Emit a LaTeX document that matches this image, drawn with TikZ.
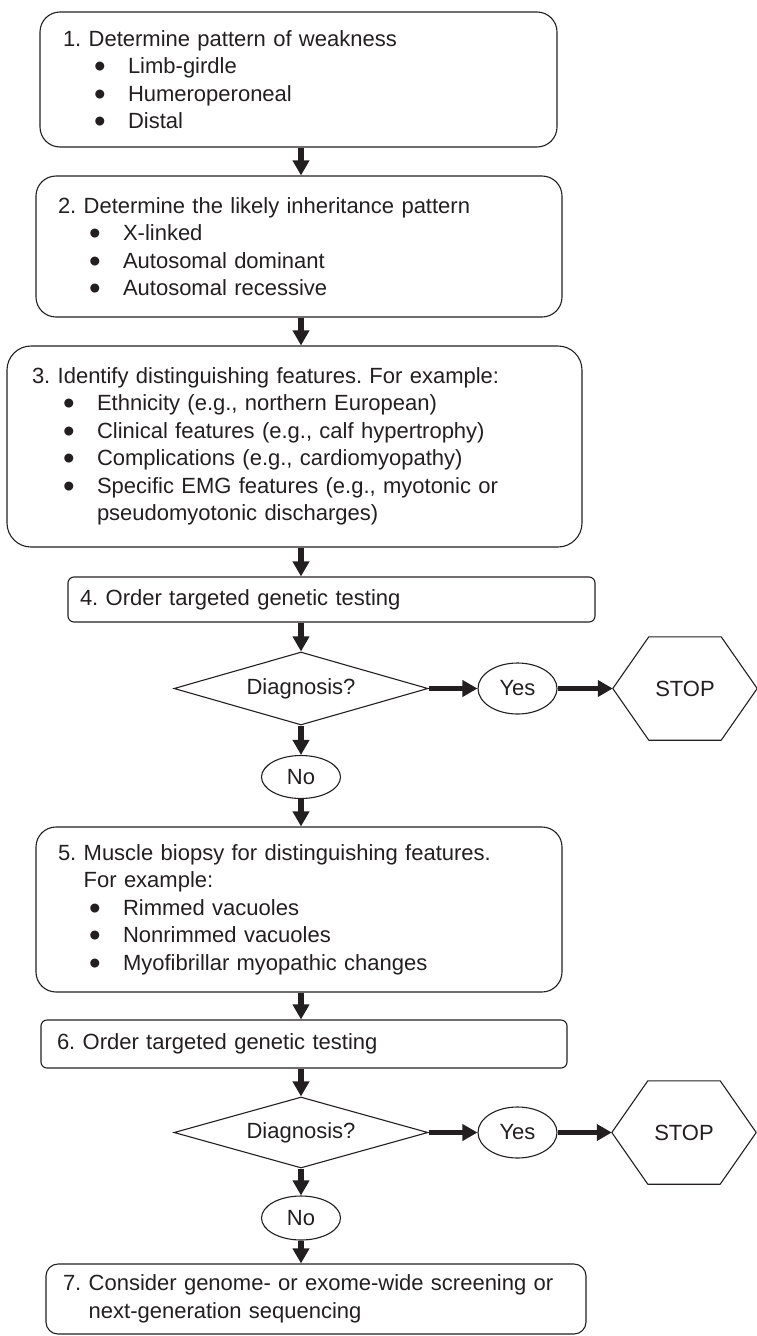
\documentclass[tikz,border=0pt]{standalone}
\usepackage{fontspec}
\setmainfont{Liberation Sans}
\usetikzlibrary{arrows.meta,shapes.geometric}
\definecolor{ink}{RGB}{35,31,32}
\frenchspacing
\newcommand\bul{\hspace*{31pt}\makebox[34pt][l]{\smash{\raisebox{-4pt}{\scalebox{1.5}{\textbullet}}}}}
\newcommand\stophex[3]{%
  \node[minimum width=144pt,minimum height=103pt,inner sep=0pt] (#1) at (#2,#3) {STOP};
  \draw[line width=1.1pt,line join=round] (#1.west) -- ([xshift=36pt]#1.north west)
    -- ([xshift=-36pt]#1.north east) -- (#1.east) -- ([xshift=-36pt]#1.south east)
    -- ([xshift=36pt]#1.south west) -- cycle%
}
\tikzset{
  stepbox/.style={draw, line width=1.1pt, align=left, inner ysep=0pt},
  decision/.style={draw, line width=1.1pt, diamond, aspect=3.5, inner sep=0pt,
    minimum width=254pt},
  answer/.style={draw, line width=1.1pt, ellipse, inner sep=0pt, minimum width=79pt},
  flow/.style={draw, line width=5.5pt, -{Triangle[length=15pt,width=16pt]}}
}

\begin{document}
\begin{tikzpicture}[x=1pt,y=-1pt,color=ink,font=\fontsize{22pt}{27.5pt}\selectfont]
        \useasboundingbox (0,0) rectangle (757,1336);
        \coordinate (axis) at (301,0);

        % The steps
        \node[stepbox,rounded corners=20pt,minimum width=517pt,minimum height=135pt,
          inner xsep=23pt,text width=471pt] (s1) at (298.5,79.5) {
          1. Determine pattern of weakness\\
          \bul Limb-girdle\\
          \bul Humeroperoneal\\
          \bul Distal};
        \node[stepbox,rounded corners=20pt,minimum width=526pt,minimum height=141pt,
          inner xsep=22pt,text width=482pt] (s2) at (299,246.5) {
          2. Determine the likely inheritance pattern\\
          \bul X-linked\\
          \bul Autosomal dominant\\
          \bul Autosomal recessive};
        \node[stepbox,rounded corners=24pt,minimum width=575pt,minimum height=201pt,
          inner xsep=25pt,text width=525pt] (s3) at (294.5,446.5) {
          3. Identify distinguishing features. For example:\\
          \bul Ethnicity (e.g., northern European)\\
          \bul Clinical features (e.g., calf hypertrophy)\\
          \bul Complications (e.g., cardiomyopathy)\\
          \bul Specific EMG features (e.g., myotonic or\\
          \hspace*{65pt}pseudomyotonic discharges)};
        \node[stepbox,rounded corners=6pt,minimum width=527pt,minimum height=45pt,
          inner xsep=12pt,text width=503pt] (s4) at (331.5,599.5) {
          4. Order targeted genetic testing};

        % First decision
        \node[decision,minimum height=73pt] (d1) at (301,688.5) {Diagnosis?};
        \node[answer,minimum height=51pt] (y1) at (517.5,688.5) {Yes};
        \stophex{x1}{685}{688.5};
        \node[answer,minimum height=43pt] (n1) at (301,777) {No};

        \node[stepbox,rounded corners=20pt,minimum width=526pt,minimum height=165pt,
          inner xsep=22pt,text width=482pt] (s5) at (299,909.5) {
          5. Muscle biopsy for distinguishing features.\\
          \hphantom{5. }For example:\\
          \bul Rimmed vacuoles\\
          \bul Nonrimmed vacuoles\\
          \bul Myofibrillar myopathic changes};
        \node[stepbox,rounded corners=6pt,minimum width=526pt,minimum height=48pt,
          inner xsep=16pt,text width=494pt] (s6) at (304,1044) {
          6. Order targeted genetic testing};

        % Second decision
        \node[decision,minimum height=71pt] (d2) at (301,1132.5) {Diagnosis?};
        \node[answer,minimum height=51pt] (y2) at (517.5,1132.5) {Yes};
        \stophex{x2}{684}{1132.5};
        \node[answer,minimum height=44pt] (n2) at (301,1218) {No};

        \node[stepbox,rounded corners=12pt,minimum width=540pt,minimum height=70pt,
          inner xsep=17pt,text width=506pt] (s7) at (316,1299) {
          7. Consider genome- or exome-wide screening or\\
          \hphantom{7. }next-generation sequencing};

        % Arrows down the middle
        \draw[flow] (s1.south -| axis) -- (s2.north -| axis);
        \draw[flow] (s2.south -| axis) -- (s3.north -| axis);
        \draw[flow] (s3.south -| axis) -- (s4.north -| axis);
        \draw[flow] (s4.south -| axis) -- (d1);
        \draw[flow] (d1) -- (n1);
        \draw[flow] (n1) -- (s5.north -| axis);
        \draw[flow] (s5.south -| axis) -- (s6.north -| axis);
        \draw[flow] (s6.south -| axis) -- (d2);
        \draw[flow] (d2) -- (n2);
        \draw[flow] (n2) -- (s7.north -| axis);
        % Arrows to the right
        \draw[flow] (d1) -- (y1);
        \draw[flow] (y1) -- (x1.west);
        \draw[flow] (d2) -- (y2);
        \draw[flow] (y2) -- (x2.west);
    \end{tikzpicture}
\end{document}
